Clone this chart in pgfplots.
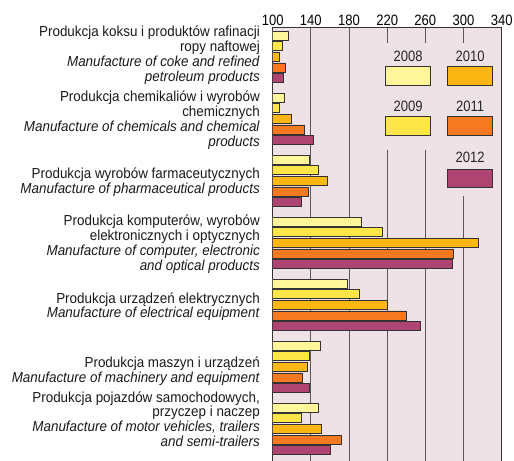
\documentclass[border=0pt]{standalone}
\usepackage{pgfplots}
\pgfplotsset{compat=1.18}
\usepackage{pgfplotstable}
\usepackage{fontspec}
\setmainfont{Liberation Sans}
\newfontfamily\cond[FakeStretch=0.87]{Liberation Sans}
\newfontfamily\labfont[FakeStretch=0.925]{Liberation Sans}

\definecolor{c08}{HTML}{FFF59A}
\definecolor{c09}{HTML}{FFE648}
\definecolor{c10}{HTML}{FDB714}
\definecolor{c11}{HTML}{F47920}
\definecolor{c12}{HTML}{AE4570}
\definecolor{bgplot}{HTML}{EEE2E6}
\definecolor{edge}{HTML}{333333}

% index, 2008 = 100 ...
\pgfplotstableread{
pos y2008 y2009 y2010 y2011 y2012
6 116.4 110.0 107.0 113.0 111.5
5 112.0 106.6 119.5 133.5 142.6
4 138.4 148.2 157.3 137.7 130.4
3 192.6 214.9 316.0 289.7 288.0
2 178.2 190.8 220.1 239.7 255.1
1 149.9 138.4 136.3 131.0 138.4
0 148.2 130.4 151.4 171.9 160.4
}\datatable

\begin{document}
\begin{tikzpicture}
\begin{axis}[
    at={(272.7bp,-27bp)}, anchor=north west,
    scale only axis, width=229bp, height=436bp,
    xmin=100, xmax=340, ymin=-0.55, ymax=6.482,
    xbar, bar width=9bp,
    axis background/.style={fill=bgplot},
    axis line style={edge, line width=0.9bp},
    xtick={100,140,...,340},
    xticklabel pos=upper,
    major tick length=0pt,
    xmajorgrids,
    grid style={gray!70!black, line width=0.9bp},
    xticklabel style={font=\cond\fontsize{15bp}{15bp}\selectfont, text=black, inner sep=1bp},
    /pgf/number format/assume math mode=true,
    ytick={6.027,4.982,3.974,2.982,1.971,0.937,0.160},
    yticklabels={
      {Produkcja koksu i produktów rafinacji\\ropy naftowej\\\textit{Manufacture of coke and refined}\\\textit{petroleum products}},
      {Produkcja chemikaliów i wyrobów\\chemicznych\\\textit{Manufacture of chemicals and chemical}\\\textit{products}},
      {Produkcja wyrobów farmaceutycznych\\\textit{Manufacture of pharmaceutical products}},
      {Produkcja komputerów, wyrobów\\elektronicznych i optycznych\\\textit{Manufacture of computer, electronic}\\\textit{and optical products}},
      {Produkcja urządzeń elektrycznych\\\textit{Manufacture of electrical equipment}},
      {Produkcja maszyn i urządzeń\\\textit{Manufacture of machinery and equipment}},
      {Produkcja pojazdów samochodowych,\\przyczep i naczep\\\textit{Manufacture of motor vehicles, trailers}\\\textit{and semi-trailers}}
    },
    yticklabel style={align=right, inner sep=0pt, xshift=-12.7bp, text=black!90,
      font=\labfont\fontsize{14.5bp}{14.8bp}\selectfont},
    every axis plot/.append style={draw=edge, line width=0.9bp},
]
\addplot[fill=c08, bar shift=21.2bp] table[x=y2008, y=pos] {\datatable};
\addplot[fill=c09, bar shift=10.6bp] table[x=y2009, y=pos] {\datatable};
\addplot[fill=c10, bar shift=0bp] table[x=y2010, y=pos] {\datatable};
\addplot[fill=c11, bar shift=-10.6bp] table[x=y2011, y=pos] {\datatable};
\addplot[fill=c12, bar shift=-21.2bp] table[x=y2012, y=pos] {\datatable};
\end{axis}
% legend
\begin{scope}[x=1bp, y=-1bp]
\fill[bgplot] (378,43) rectangle (499.5,150);
\fill[bgplot] (440,43) rectangle (499.5,196);
\tikzset{lb/.style={font=\cond\fontsize{15bp}{15bp}\selectfont, text=black!85}}
\draw[edge, line width=0.9bp, fill=c08] (385.7,66.7) rectangle (430.7,85.7);
\draw[edge, line width=0.9bp, fill=c10] (447.7,66.7) rectangle (492.7,85.7);
\draw[edge, line width=0.9bp, fill=c09] (385.7,116.7) rectangle (430.7,135.7);
\draw[edge, line width=0.9bp, fill=c11] (447.7,116.7) rectangle (492.7,135.7);
\draw[edge, line width=0.9bp, fill=c12] (447.7,169) rectangle (492.7,187.7);
\node[lb] at (408.2,56) {2008};
\node[lb] at (470.2,56) {2010};
\node[lb] at (408.2,106) {2009};
\node[lb] at (470.2,106) {2011};
\node[lb] at (470.2,157.3) {2012};
\end{scope}
\pgfresetboundingbox
\useasboundingbox (0,0) rectangle (514bp,-461bp);
\end{tikzpicture}
\end{document}
